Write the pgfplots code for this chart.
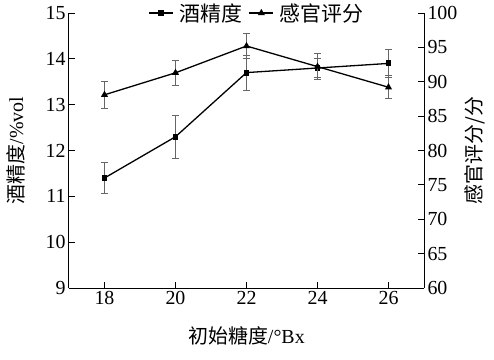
\documentclass[border=0pt]{standalone}
\usepackage{fontspec}
\setmainfont{Liberation Serif}
\newfontfamily\cjk{Noto Sans CJK SC}
\usepackage{pgfplots}
\pgfplotsset{compat=1.18}
\pgfplotstableread{
x y e
18 11.40 0.33
20 12.30 0.47
22 13.70 0.38
24 13.80 0.20
26 13.90 0.30
}\alc
\pgfplotstableread{
x y e
18 88.1 2.0
20 91.3 1.8
22 95.2 1.8
24 92.2 1.9
26 89.2 1.7
}\sens
\begin{document}
\begin{tikzpicture}[font=\fontsize{20}{24}\selectfont]
\path[use as bounding box] (-69bp,-72bp) rectangle (425bp,288bp);
\pgfplotsset{
  common/.style={
    scale only axis, width=355bp, height=275bp,
    xmin=17, xmax=27,
    tick align=inside, major tick length=6bp,
    tick style={black, line width=0.9bp},
    axis line style={black, line width=1bp},
    /pgf/number format/assume math mode=true,
  },
  eb/.style={error bars/.cd, y dir=both, y explicit,
    error bar style={gray!80!black, line width=1bp},
    error mark options={rotate=90, gray!80!black, mark size=3.5bp, line width=1bp}},
}
\begin{axis}[common,
  ymin=9, ymax=15, ytick={9,...,15},
  axis x line*=bottom, axis y line*=left,
  xtick={18,20,...,26},
  xlabel={{\cjk 初始糖度}/°Bx},
  xlabel style={yshift=-15bp},
  ylabel={{\cjk 酒精度}/\%vol},
  ylabel style={yshift=14bp},
  legend style={draw=none, fill=none, at={(0.53,1.0)}, anchor=center,
    legend columns=2, column sep=4bp, inner sep=0pt, font=\fontsize{21}{24}\selectfont},
  legend image code/.code={
    \draw[#1] (0bp,0bp) -- (24bp,0bp);
    \draw[#1, mark repeat=1] plot coordinates {(12bp,0bp)};},
]
\addplot[black, line width=1.3bp, mark=square*, mark size=2.3bp, eb]
  table[x=x, y=y, y error=e] {\alc};
\addlegendentry{\cjk 酒精度}
\addlegendimage{black, line width=1.3bp, mark=triangle*, mark size=2.8bp}
\addlegendentry{\cjk 感官评分}
\end{axis}
\begin{axis}[common,
  ymin=60, ymax=100, ytick={60,65,...,100},
  axis x line=none, axis y line*=right,
  ylabel={\cjk 感官评分/分},
]
\addplot[black, line width=1.3bp, mark=triangle*, mark size=2.8bp, eb]
  table[x=x, y=y, y error=e] {\sens};
\end{axis}
\end{tikzpicture}
\end{document}
